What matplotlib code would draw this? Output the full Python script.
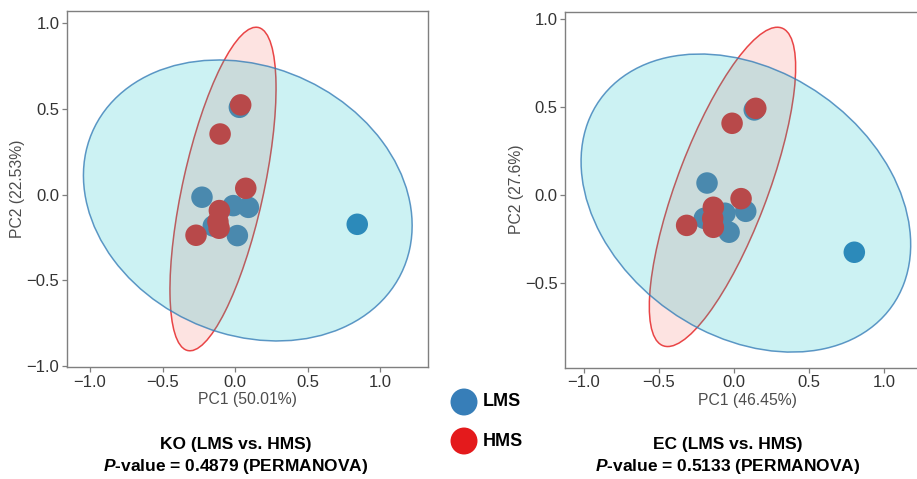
import matplotlib
matplotlib.use("Agg")
import matplotlib.pyplot as plt
from matplotlib.patches import Ellipse

plt.rcParams['font.family'] = ['Liberation Sans', 'DejaVu Sans']
plt.rcParams['mathtext.fontset'] = 'custom'
plt.rcParams['mathtext.it'] = 'Liberation Sans:italic:bold'
plt.rcParams['mathtext.rm'] = 'Liberation Sans:bold'

groups = ["LMS", "HMS"]
point_colors = {"LMS": "#377EB8", "HMS": "#E41A1C"}
fill_colors = {"LMS": "#00BFC4", "HMS": "#F8766D"}

# KO panel
ko_lms_pc1 = [0.03, -0.228, -0.012, 0.092, -0.15, 0.016, 0.843]
ko_lms_pc2 = [0.51, -0.015, -0.064, -0.074, -0.183, -0.239, -0.173]
ko_hms_pc1 = [0.039, -0.103, 0.074, -0.108, -0.118, -0.110, -0.269]
ko_hms_pc2 = [0.524, 0.354, 0.037, -0.093, -0.158, -0.196, -0.237]
# ellipse: center x, center y, width, height, angle (deg)
ko_ell_lms = [0.088, -0.034, 2.304, 1.588, -14.2]
ko_ell_hms = [-0.083, 0.033, 1.948, 0.555, 75.2]

# EC panel
ec_lms_pc1 = [0.135, -0.18, 0.078, -0.06, -0.198, -0.033, 0.802]
ec_lms_pc2 = [0.484, 0.068, -0.093, -0.104, -0.133, -0.212, -0.326]
ec_hms_pc1 = [0.145, -0.013, 0.047, -0.138, -0.142, -0.138, -0.316]
ec_hms_pc2 = [0.493, 0.408, -0.021, -0.07, -0.133, -0.184, -0.173]
ec_ell_lms = [0.079, -0.046, 2.298, 1.558, -23.4]
ec_ell_hms = [-0.077, 0.046, 1.975, 0.595, 65.75]

ko_xlabel = "PC1 (50.01%)"
ko_ylabel = "PC2 (22.53%)"
ec_xlabel = "PC1 (46.45%)"
ec_ylabel = "PC2 (27.6%)"
ko_title = ["KO (LMS vs. HMS)", "-value = 0.4879 (PERMANOVA)"]
ec_title = ["EC (LMS vs. HMS)", "-value = 0.5133 (PERMANOVA)"]
ticks = [-1.0, -0.5, 0.0, 0.5, 1.0]

W, H = 917, 479
fig = plt.figure(figsize=(W / 100, H / 100), dpi=100)

def px_axes(x0, y0, x1, y1):
    return fig.add_axes([x0 / W, 1 - y1 / H, (x1 - x0) / W, (y1 - y0) / H])

def panel(ax, lms, hms, ell_lms, ell_hms, xlab, ylab, xlim, ylim):
    ax.scatter(lms[0], lms[1], s=240, color=point_colors["LMS"], edgecolors='none', zorder=1)
    ax.scatter(hms[0], hms[1], s=240, color=point_colors["HMS"], edgecolors='none', zorder=1.5)
    for e, g, z in [(ell_hms, "HMS", 2), (ell_lms, "LMS", 3)]:
        ax.add_patch(Ellipse((e[0], e[1]), e[2], e[3], angle=e[4],
                             facecolor=fill_colors[g], alpha=0.2, edgecolor='none', zorder=z))
        ax.add_patch(Ellipse((e[0], e[1]), e[2], e[3], angle=e[4],
                             facecolor='none', edgecolor=point_colors[g], lw=1.1, alpha=0.8, zorder=z + 0.1))
    ax.set_xlim(*xlim)
    ax.set_ylim(*ylim)
    yt = [t for t in ticks if ylim[0] <= t <= ylim[1]]
    ax.set_xticks(ticks)
    ax.set_yticks(yt)
    ax.set_xticklabels([f"{t:.1f}".replace('-', '\u2212') for t in ticks])
    ax.set_yticklabels([f"{t:.1f}".replace('-', '\u2212') for t in yt])
    ax.tick_params(labelsize=12, colors='#7F7F7F', labelcolor='#333333', length=3.5, width=0.9, pad=2)
    for sp in ax.spines.values():
        sp.set_color('#7F7F7F')
        sp.set_linewidth(1.0)
    ax.set_xlabel(xlab, fontsize=11.3, color='#4D4D4D', labelpad=2)
    ax.set_ylabel(ylab, fontsize=11.3, color='#4D4D4D', labelpad=1)

ax1 = px_axes(67, 11, 428, 367)
panel(ax1, (ko_lms_pc1, ko_lms_pc2), (ko_hms_pc1, ko_hms_pc2), ko_ell_lms, ko_ell_hms,
      ko_xlabel, ko_ylabel, (-1.159, 1.331), (-1.006, 1.072))

ax2 = px_axes(565.3, 11.7, 929, 367.7)
panel(ax2, (ec_lms_pc1, ec_lms_pc2), (ec_hms_pc1, ec_hms_pc2), ec_ell_lms, ec_ell_hms,
      ec_xlabel, ec_ylabel, (-1.125, 1.3), (-0.983, 1.043))
ax2.spines['right'].set_visible(False)

# titles
def ftext(x, y, s):
    fig.text(x / W, 1 - y / H, s, ha='center', va='center', fontsize=12.5,
             fontweight='bold', color='black')

for cx, t in [(236, ko_title), (728, ec_title)]:
    ftext(cx, 444, t[0])
    ftext(cx, 466, r"$\it{P}$" + t[1])

# legend
lg = fig.add_axes([0, 0, 1, 1])
lg.set_xlim(0, W)
lg.set_ylim(H, 0)
lg.axis('off')
lg.patch.set_alpha(0)
for i, g in enumerate(groups):
    yy = 402 + 39 * i
    lg.scatter([464], [yy], s=377, color=point_colors[g], edgecolors='none')
    lg.text(483, yy, g, fontsize=13, fontweight='bold', va='center', ha='left')

fig.savefig("out.png", dpi=100)
